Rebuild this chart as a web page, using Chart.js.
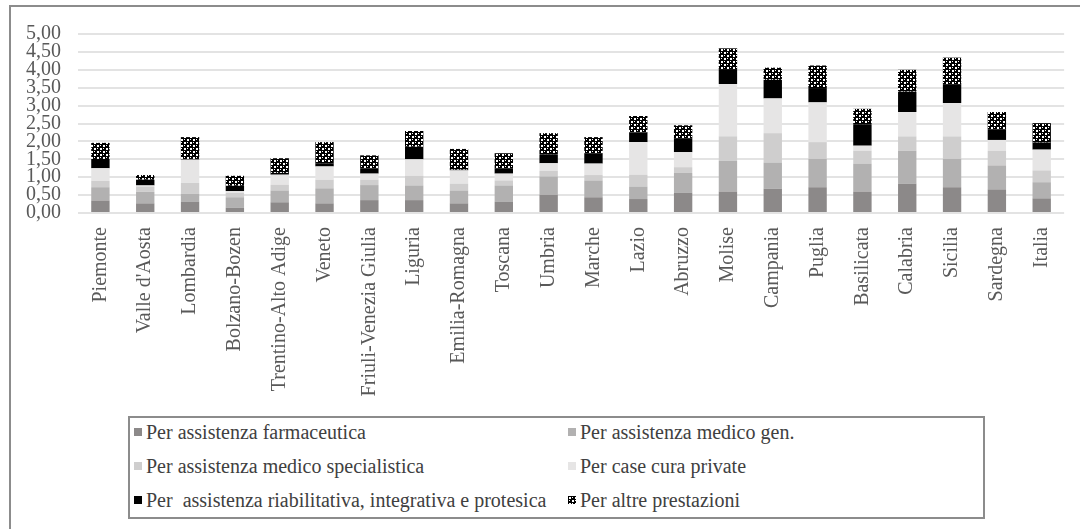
<!DOCTYPE html>
<html>
<head>
<meta charset="utf-8">
<script src="https://cdn.jsdelivr.net/npm/chart.js@4/dist/chart.umd.min.js"></script>
<style>
  html, body { margin: 0; padding: 0; background: #fff; }
  #wrap { position: relative; width: 1080px; height: 529px; overflow: hidden; }
  #frame { position: absolute; left: 9px; top: 5px; width: 1200px; height: 700px; border: 2px solid #8c8c8c; box-sizing: border-box; }
  canvas { position: absolute; left: 0; top: 0; }
  #legend { position: absolute; left: 128px; top: 416px; width: 857px; height: 103px; border: 2px solid #8c8c8c; box-sizing: border-box;
            font-family: "Liberation Serif", "Times New Roman", serif; font-size: 20px; color: #404040; background: #fff; }
  .item { position: absolute; display: flex; align-items: center; white-space: pre; height: 24px; }
  .sw { width: 8px; height: 8px; margin-right: 4px; flex: none; }
</style>
</head>
<body>
<div id="wrap">
  <div id="frame"></div>
  <canvas id="c" width="1080" height="529"></canvas>
  <div id="legend"></div>
</div>
<script>
const categories = ["Piemonte","Valle d'Aosta","Lombardia","Bolzano-Bozen","Trentino-Alto Adige","Veneto","Friuli-Venezia Giulia","Liguria","Emilia-Romagna","Toscana","Umbria","Marche","Lazio","Abruzzo","Molise","Campania","Puglia","Basilicata","Calabria","Sicilia","Sardegna","Italia"];
const seriesNames = ["Per assistenza farmaceutica","Per assistenza medico gen.","Per assistenza medico specialistica","Per case cura private","Per  assistenza riabilitativa, integrativa e protesica","Per altre prestazioni"];
const farmaceutica  = [0.35,0.27,0.32,0.15,0.30,0.27,0.36,0.36,0.27,0.32,0.51,0.44,0.39,0.57,0.60,0.68,0.72,0.60,0.82,0.72,0.66,0.41];
const medicoGen     = [0.37,0.32,0.22,0.29,0.33,0.42,0.42,0.41,0.36,0.45,0.51,0.47,0.35,0.55,0.86,0.73,0.79,0.78,0.92,0.79,0.67,0.45];
const specialistica = [0.18,0.15,0.30,0.12,0.16,0.24,0.15,0.27,0.19,0.14,0.16,0.15,0.33,0.16,0.68,0.82,0.47,0.36,0.40,0.63,0.41,0.33];
const caseCura      = [0.35,0.03,0.65,0.05,0.28,0.37,0.17,0.46,0.37,0.19,0.21,0.32,0.91,0.42,1.46,0.97,1.11,0.14,0.68,0.93,0.30,0.58];
const riabilitativa = [0.26,0.16,0.02,0.15,0.05,0.09,0.15,0.35,0.02,0.15,0.25,0.29,0.27,0.39,0.42,0.52,0.40,0.60,0.57,0.51,0.30,0.20];
const altre         = [0.45,0.13,0.61,0.28,0.41,0.59,0.36,0.44,0.58,0.42,0.59,0.45,0.46,0.36,0.58,0.34,0.63,0.43,0.61,0.76,0.48,0.54];
const yTicks = ["0,00","0,50","1,00","1,50","2,00","2,50","3,00","3,50","4,00","4,50","5,00"];

// pattern for "altre prestazioni"
const tile = document.createElement('canvas');
tile.width = 6; tile.height = 6;
const tctx = tile.getContext('2d');
tctx.fillStyle = '#000'; tctx.fillRect(0,0,6,6);
tctx.fillStyle = '#fff';
tctx.fillRect(1,1,2,2); tctx.fillRect(4,4,2,2);
tctx.fillRect(4,1,1,1); tctx.fillRect(1,4,1,1);
const ctx = document.getElementById('c').getContext('2d');
const pattern = ctx.createPattern(tile, 'repeat');

const colors = ['#8c8989', '#b2b1b1', '#cfcece', '#e6e5e5', '#000000', pattern];
const seriesData = [farmaceutica, medicoGen, specialistica, caseCura, riabilitativa, altre];

const datasets = seriesNames.map((name, i) => ({
  label: name,
  data: seriesData[i],
  backgroundColor: colors[i],
  borderWidth: 0,
  barPercentage: 0.41,
  categoryPercentage: 1.0
}));

const serif = "'Liberation Serif', 'Times New Roman', serif";

const chart = new Chart(ctx, {
  type: 'bar',
  data: { labels: categories, datasets },
  options: {
    responsive: false,
    devicePixelRatio: 1,
    animation: false,
    layout: { padding: { left: 12, right: 13, top: 34, bottom: 126 } },
    plugins: { legend: { display: false }, tooltip: { enabled: false } },
    scales: {
      x: {
        stacked: true,
        grid: { display: false, drawTicks: false },
        border: { display: false },
        ticks: { minRotation: 90, maxRotation: 90, autoSkip: false, padding: 14,
                 font: { family: serif, size: 20 }, color: '#595959' },
        afterFit: s => { s.height = 190; }
      },
      y: {
        stacked: true,
        min: 0, max: 5,
        ticks: { stepSize: 0.5, padding: 17, autoSkip: false, font: { family: serif, size: 20, lineHeight: 1 }, color: '#595959',
                 callback: (v) => yTicks[Math.round(v / 0.5)] },
        grid: { color: '#e3e3e3', lineWidth: 2, drawTicks: false },
        border: { display: false },
        afterFit: s => { s.width = 66; }
      }
    }
  }
});

// HTML legend built from datasets
const leg = document.getElementById('legend');
const tileURL = tile.toDataURL();
chart.data.datasets.forEach((ds, i) => {
  const col = i % 2, row = Math.floor(i / 2);
  const it = document.createElement('div');
  it.className = 'item';
  it.style.left = (col === 0 ? 4 : 438) + 'px';
  it.style.top = (2 + row * 34) + 'px';
  const sw = document.createElement('span');
  sw.className = 'sw';
  if (i === 5) { sw.style.backgroundImage = 'url(' + tileURL + ')'; }
  else sw.style.background = colors[i];
  const tx = document.createElement('span');
  tx.textContent = ds.label;
  it.appendChild(sw); it.appendChild(tx);
  leg.appendChild(it);
});
</script>
</body>
</html>
